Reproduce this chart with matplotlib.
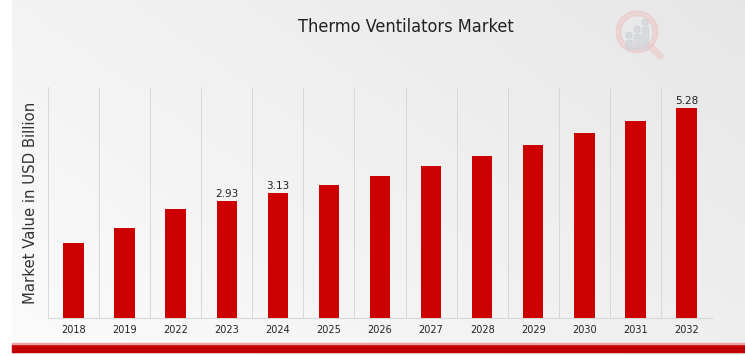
import numpy as np
import matplotlib.pyplot as plt
from matplotlib.patches import Rectangle, Circle, Wedge

# Data
years = ["2018", "2019", "2022", "2023", "2024", "2025", "2026",
         "2027", "2028", "2029", "2030", "2031", "2032"]
values = [1.88, 2.26, 2.74, 2.93, 3.13, 3.34, 3.57, 3.82, 4.07, 4.35, 4.65, 4.95, 5.28]
labels = {"2023": "2.93", "2024": "3.13", "2032": "5.28"}

fig = plt.figure(figsize=(7.45, 3.55), dpi=100)

# gradient background
bg = fig.add_axes([0.016, 0.0, 0.984, 1.0], zorder=-10)
gx = np.linspace(0, 1, 200)
gy = np.linspace(0, 1, 100)
X, Y = np.meshgrid(gx, gy)
shade = 0.985 - 0.08 * np.clip((X * 0.6 + (1 - Y) * 0.4), 0, 1)
bg.imshow(np.dstack([shade, shade, shade]), extent=[0, 1, 0, 1], aspect="auto", origin="upper")
bg.set_xlim(0, 1)
bg.set_ylim(0, 1)
bg.axis("off")

# bottom red band
fig.patches.append(Rectangle((0.016, 0.008), 0.984, 0.022, transform=fig.transFigure,
                             color="#c00000", zorder=5))
fig.patches.append(Rectangle((0.016, 0.030), 0.984, 0.004, transform=fig.transFigure,
                             color="#f0a0a0", zorder=5))

# faint logo top right
lg = fig.add_axes([608 / 745, 1 - 62 / 355, 58 / 745, 58 / 355])
lg.set_xlim(0, 1)
lg.set_ylim(0, 1)
lg.set_aspect("equal")
lg.axis("off")
lg.add_patch(Wedge((0.5, 0.52), 0.36, 0, 360, width=0.08, color="#ecc4c4", alpha=0.55))
lg.plot([0.75, 0.9], [0.25, 0.1], color="#ecc4c4", lw=5, alpha=0.55, solid_capstyle="round")
for bx, bh in [(0.36, 0.16), (0.5, 0.26), (0.64, 0.38)]:
    lg.add_patch(Rectangle((bx - 0.05, 0.22), 0.1, bh, color="#d0d3da", alpha=0.7))
    lg.add_patch(Circle((bx, 0.22 + bh + 0.08), 0.055, color="#d0d3da", alpha=0.7))

ax = fig.add_axes([48 / 745, 1 - 318 / 355, (712 - 48) / 745, (318 - 87) / 355])
ax.patch.set_alpha(0)
x = np.arange(len(years))
ax.bar(x, values, width=0.4, color="#cc0000", zorder=3)
for i, yr in enumerate(years):
    if yr in labels:
        ax.text(i, values[i] + 0.05, labels[yr], ha="center", va="bottom", fontsize=7.5, color="#222222")

ax.set_xlim(-0.5, len(years) - 0.5)
ax.set_ylim(0, 5.8)
ax.set_xticks(x)
ax.set_xticklabels(years, fontsize=7, color="#222222")
ax.set_xticks(np.arange(-0.5, len(years), 1), minor=True)
ax.tick_params(axis="x", which="major", length=0, pad=5)
ax.tick_params(axis="x", which="minor", length=0)
ax.set_yticks([])
ax.grid(axis="x", which="minor", color="#d8d8d8", linewidth=0.7)
for s in ["top", "right", "left"]:
    ax.spines[s].set_visible(False)
ax.spines["bottom"].set_color("#d8d8d8")
ax.set_ylabel("Market Value in USD Billion", fontsize=10.7, color="#333333", labelpad=7)

fig.text(0.545, 0.925, "Thermo Ventilators Market", ha="center", va="center",
         fontsize=13, color="#222222", fontstretch="condensed", family="DejaVu Sans")

fig.savefig("out.png", dpi=100)
